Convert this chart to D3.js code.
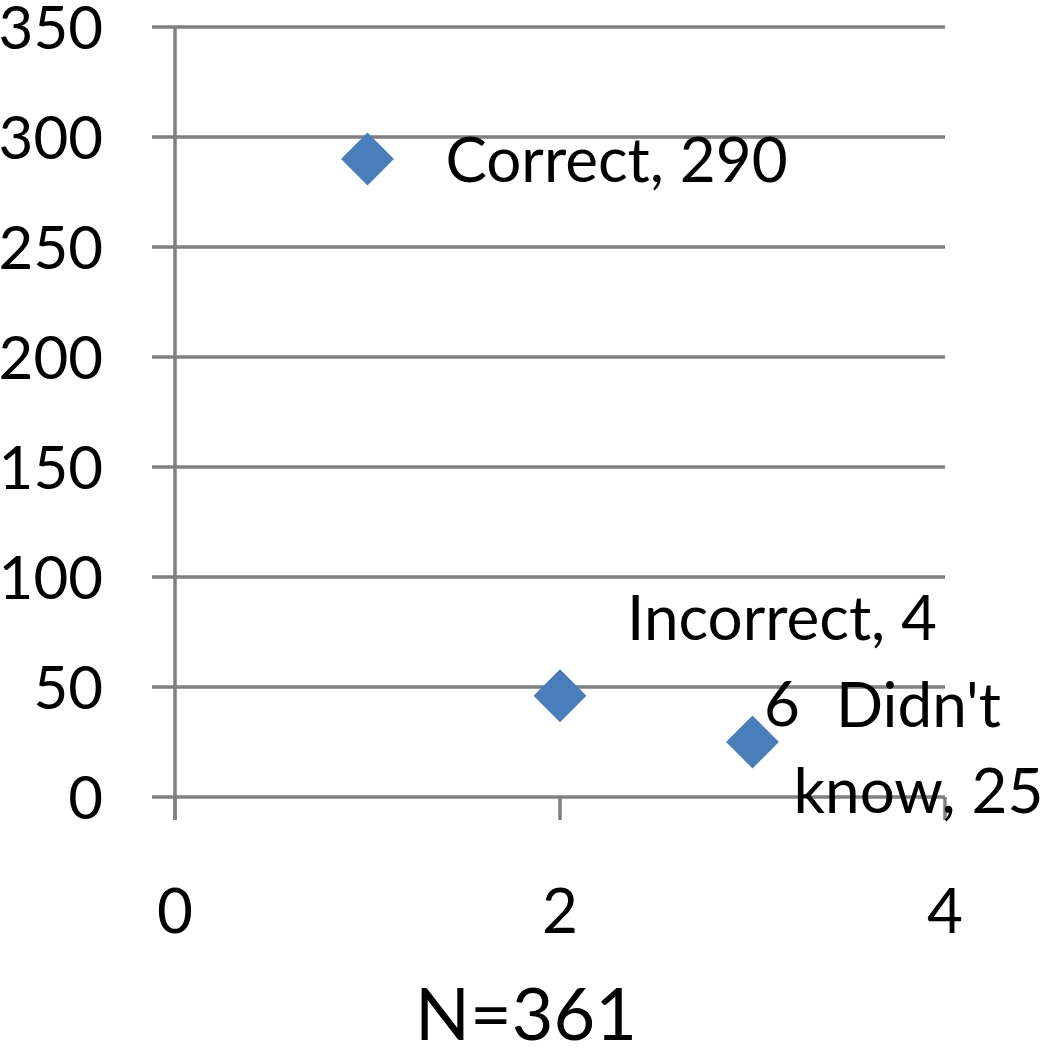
<!DOCTYPE html>
<html>
<head>
<meta charset="utf-8">
<script src="https://cdn.jsdelivr.net/npm/d3@7"></script>
<style>
  body { margin: 0; background: #fff; }
  text { font-family: Lato, "Open Sans", sans-serif; fill: #000; }
</style>
</head>
<body>
<div id="chart"></div>
<script>
// chart values
var categories = ["Correct", "Incorrect", "Didn't know"];
var xValues = [1, 2, 3];
var yValues = [290, 46, 25];
// labels as wrapped in the original
var labelLines = [["Correct, 290"], ["Incorrect, 4", "6"], ["Didn't", "know, 25"]];
var yTicks = [0, 50, 100, 150, 200, 250, 300, 350];
var xTicks = [0, 2, 4];
var title = "N=361";

var svgWidth = 1049;
var svgHeight = 1050;

// plot area (note: "top" is taken by window.top, so prefix these)
var plotLeft = 175, plotRight = 945, plotTop = 27, plotBottom = 797;
var tickLen = 23;
var gridColor = "#808080";
var markerColor = "#4a7ebb";

// label placement relative to its point (centre of first line baseline)
var labelOffsets = [[249, 23], [222, -56], [166, -15]];
var lineHeight = 86;

var svg = d3.select("#chart")
  .append("svg")
  .attr("width", svgWidth)
  .attr("height", svgHeight);

var x = d3.scaleLinear().domain([0, 4]).range([plotLeft, plotRight]);
var y = d3.scaleLinear().domain([0, 350]).range([plotBottom, plotTop]);

var points = categories.map(function(c, i) {
  return { name: c, x: xValues[i], y: yValues[i], lines: labelLines[i], off: labelOffsets[i] };
});

// horizontal gridlines (with tick stubs to the left of the axis)
svg.append("g")
  .selectAll("line")
  .data(yTicks)
  .enter()
  .append("line")
  .attr("x1", plotLeft - tickLen)
  .attr("x2", plotRight)
  .attr("y1", d => y(d))
  .attr("y2", d => y(d))
  .attr("stroke", gridColor)
  .attr("stroke-width", 3.5);

// vertical axis line
svg.append("line")
  .attr("x1", x(0)).attr("x2", x(0))
  .attr("y1", y(350)).attr("y2", y(0) + tickLen)
  .attr("stroke", gridColor)
  .attr("stroke-width", 3.5);

// x tick marks below the zero line
svg.append("g")
  .selectAll("line")
  .data(xTicks)
  .enter()
  .append("line")
  .attr("x1", d => x(d)).attr("x2", d => x(d))
  .attr("y1", y(0)).attr("y2", y(0) + tickLen)
  .attr("stroke", gridColor)
  .attr("stroke-width", 3.5);

// y tick labels
svg.append("g")
  .selectAll("text")
  .data(yTicks)
  .enter()
  .append("text")
  .attr("x", 103)
  .attr("y", d => y(d))
  .attr("dy", "0.36em")
  .attr("text-anchor", "end")
  .attr("font-size", 60)
  .text(d => d);

// x tick labels
svg.append("g")
  .selectAll("text")
  .data(xTicks)
  .enter()
  .append("text")
  .attr("x", d => x(d))
  .attr("y", 933)
  .attr("text-anchor", "middle")
  .attr("font-size", 62)
  .text(d => d);

// axis title
svg.append("text")
  .attr("x", 526)
  .attr("y", 1040)
  .attr("text-anchor", "middle")
  .attr("font-size", 72)
  .text(title);

// diamond markers
var diamond = d3.symbol().type(d3.symbolSquare).size(1400);
svg.append("g")
  .selectAll("path")
  .data(points)
  .enter()
  .append("path")
  .attr("d", diamond)
  .attr("transform", d => `translate(${x(d.x)}, ${y(d.y)}) rotate(45)`)
  .attr("fill", markerColor);

// data labels
var labels = svg.append("g")
  .selectAll("text")
  .data(points)
  .enter()
  .append("text")
  .attr("text-anchor", "middle")
  .attr("font-size", 62);

labels.selectAll("tspan")
  .data(d => d.lines.map(function(t, j) {
    return { t: t, x: x(d.x) + d.off[0], y: y(d.y) + d.off[1] + j * lineHeight };
  }))
  .enter()
  .append("tspan")
  .attr("x", d => d.x)
  .attr("y", d => d.y)
  .text(d => d.t);
</script>
</body>
</html>
